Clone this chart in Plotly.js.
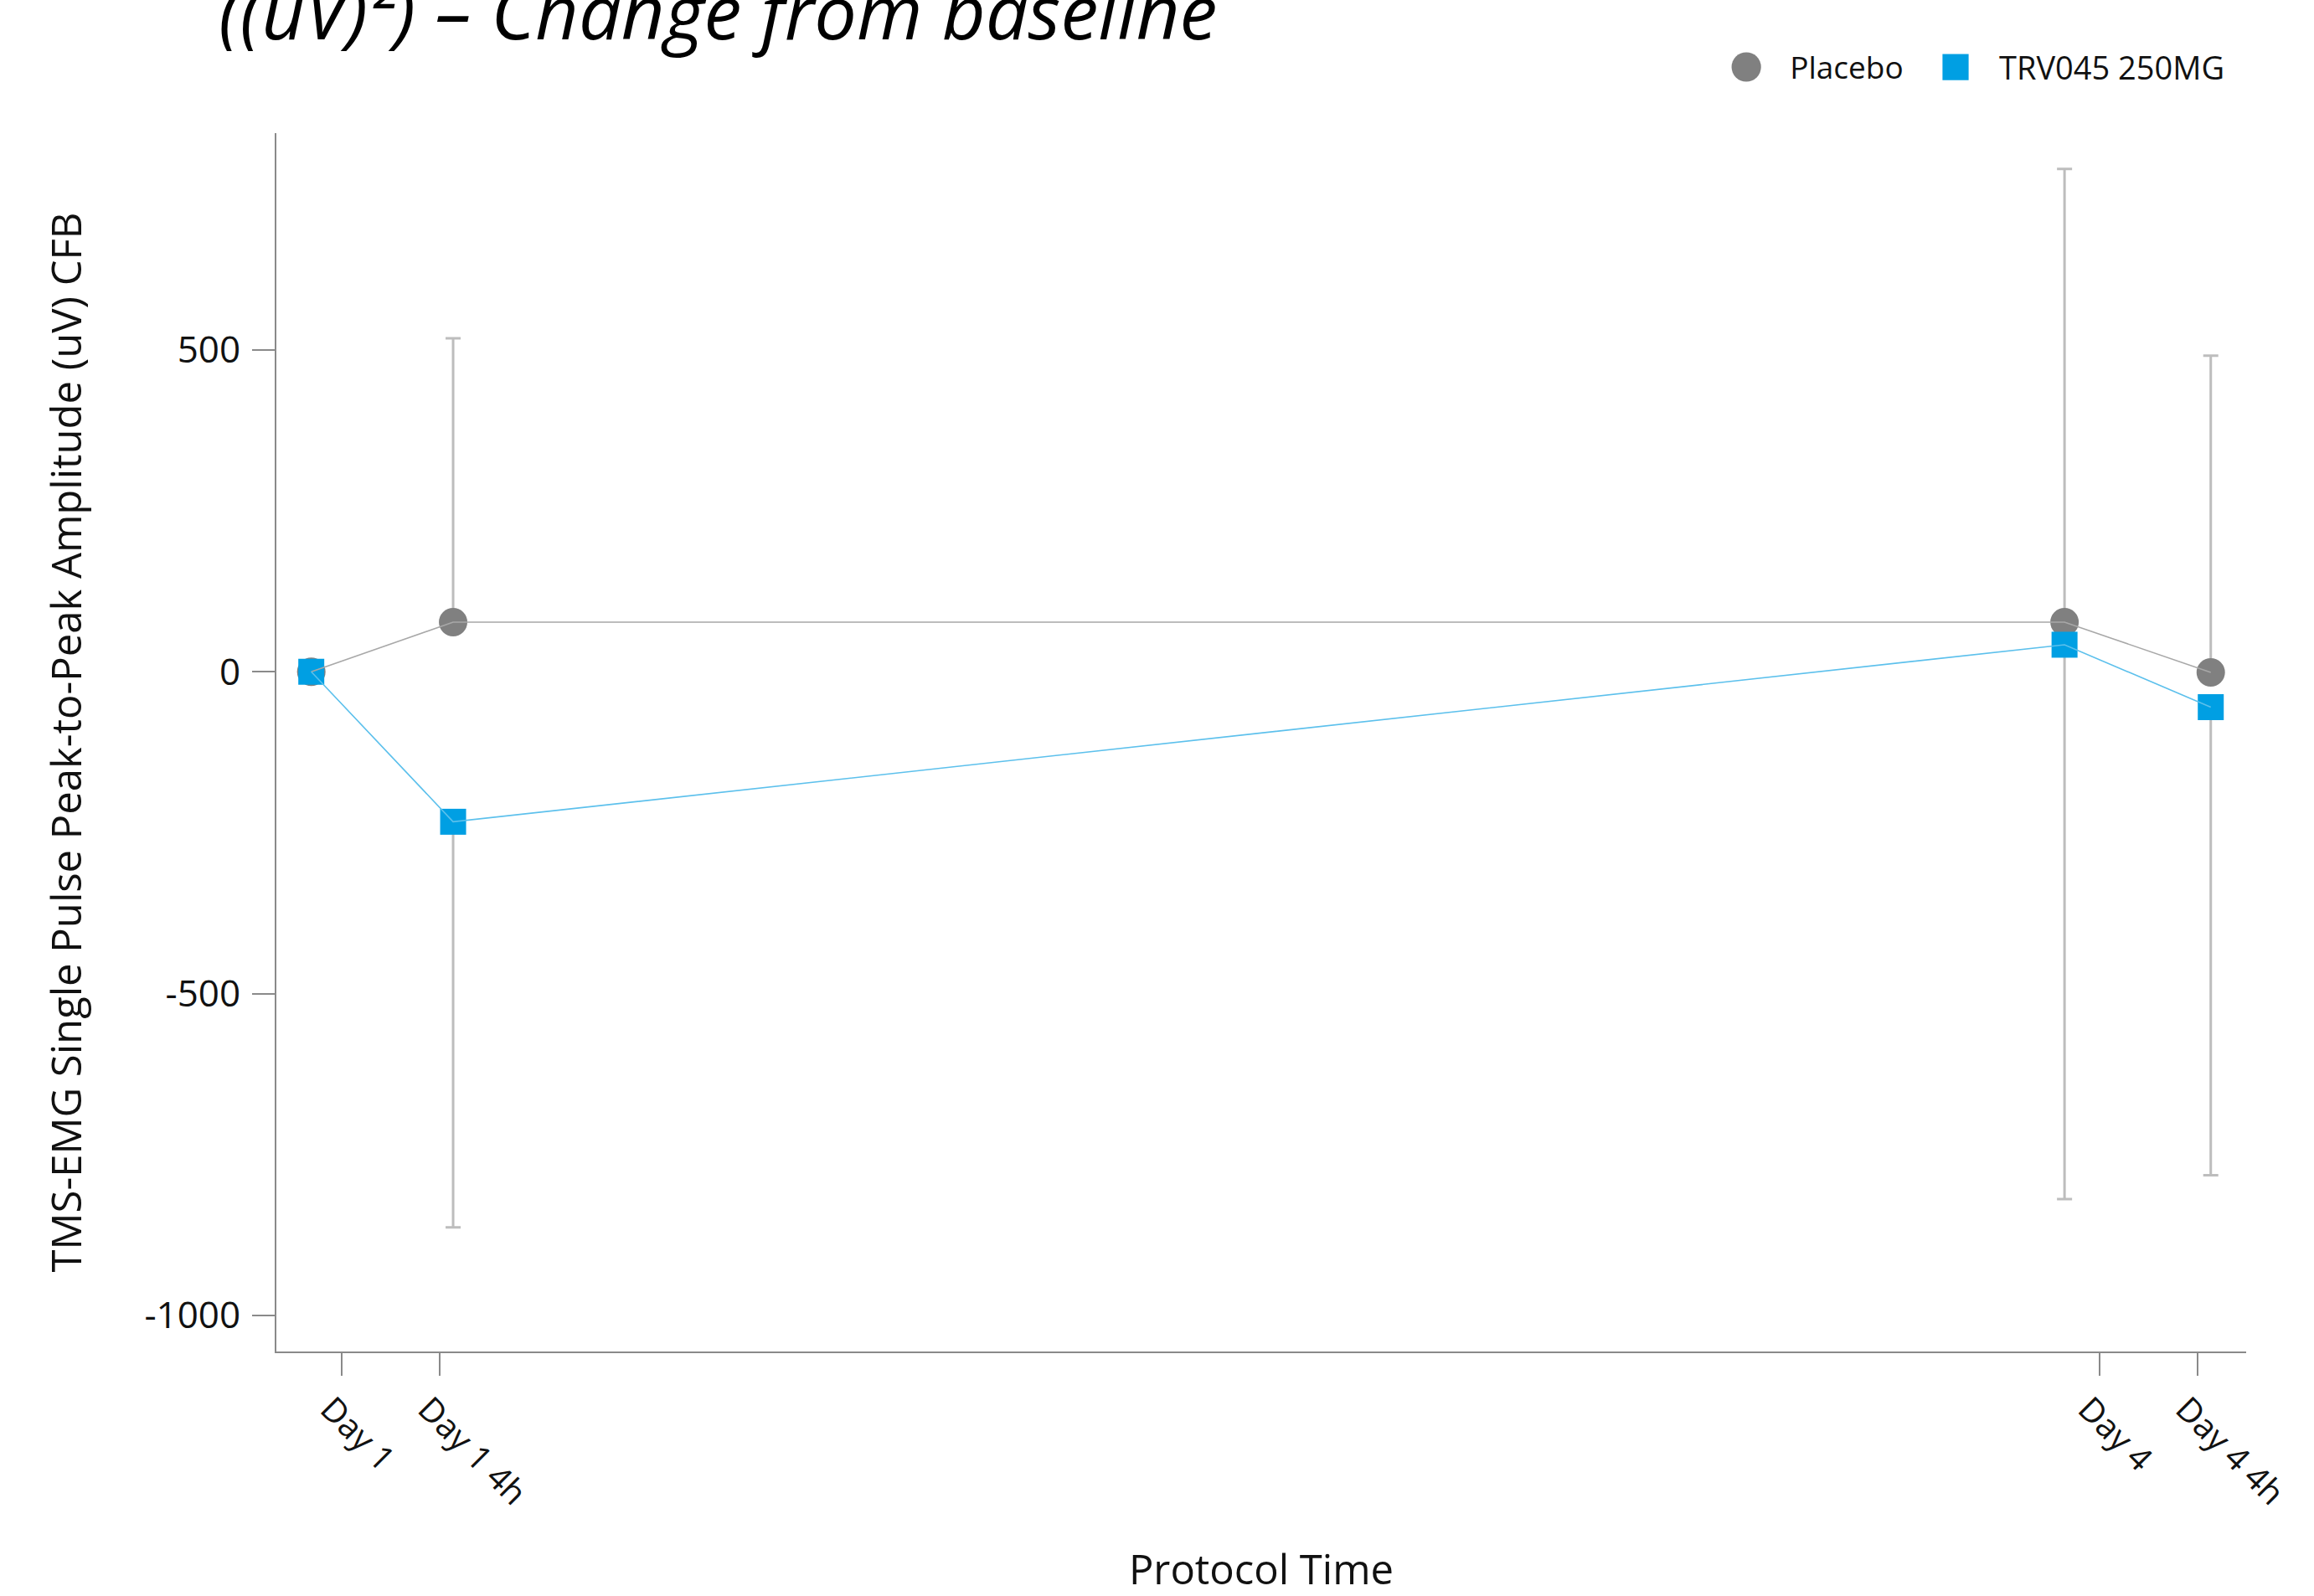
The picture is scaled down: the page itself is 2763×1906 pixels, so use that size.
<!DOCTYPE html>
<html>
<head>
<meta charset="utf-8">
<script src="https://cdn.plot.ly/plotly-3.0.1.min.js"></script>
<style>
  html, body { margin: 0; padding: 0; background: #ffffff; }
  #chart { width: 2763px; height: 1906px; }
</style>
</head>
<body>
<div id="chart"></div>
<script>
// Protocol time points (hours from Day 1 dose) and their labels
const tickHours = [0, 4, 72, 76];
const tickLabels = ['Day 1', 'Day 1 4h', 'Day 4', 'Day 4 4h'];

// Mean assessment time of each visit, in hours
const visitHours = [-1.26, 4.55, 70.56, 76.55];

// Change from baseline, mean values
const placeboMean = [0, 77, 77, -1];
const trvMean = [0, -233, 42, -55];

// Error bar lengths (placebo drawn upward, TRV045 drawn downward)
const placeboErrUp = [0, 441, 704, 492];
const trvErrDown = [0, 630, 861, 727];
const noErr = [0, 0, 0, 0];

const seriesNames = ['Placebo', 'TRV045 250MG'];

const yTickVals = [-1000, -500, 0, 500];
const yTickText = ['-1000', '-500', '0', '500'];

const FONT = '"Open Sans", "Noto Sans", sans-serif';
const ERR_COLOR = '#bdbdbd';
const PLACEBO_MARK = '#808080';
const PLACEBO_LINE = '#a8a8a8';
const TRV_MARK = '#009fe3';
const TRV_LINE = '#5cc0ec';

// Markers (with error bars) first, connecting lines drawn on top of them
const traces = [
  {
    type: 'scatter',
    mode: 'markers',
    name: seriesNames[0],
    legend: 'legend',
    x: visitHours,
    y: placeboMean,
    marker: { symbol: 'circle', size: 34, color: PLACEBO_MARK },
    error_y: {
      type: 'data', symmetric: false,
      array: placeboErrUp, arrayminus: noErr,
      color: ERR_COLOR, thickness: 3, width: 9
    }
  },
  {
    type: 'scatter',
    mode: 'markers',
    name: seriesNames[1],
    legend: 'legend2',
    x: visitHours,
    y: trvMean,
    marker: { symbol: 'square', size: 31, color: TRV_MARK },
    error_y: {
      type: 'data', symmetric: false,
      array: noErr, arrayminus: trvErrDown,
      color: ERR_COLOR, thickness: 3, width: 9
    }
  },
  {
    type: 'scatter',
    mode: 'lines',
    name: seriesNames[0],
    showlegend: false,
    x: visitHours,
    y: placeboMean,
    line: { color: PLACEBO_LINE, width: 1.6 }
  },
  {
    type: 'scatter',
    mode: 'lines',
    name: seriesNames[1],
    showlegend: false,
    x: visitHours,
    y: trvMean,
    line: { color: TRV_LINE, width: 1.6 }
  }
];

const axisLine = '#8a8a8a';

const legendBase = {
  orientation: 'v',
  xanchor: 'right',
  y: 1.054, yanchor: 'middle',
  font: { family: FONT, size: 37, color: '#111111' },
  itemwidth: 94,
  bgcolor: 'rgba(0,0,0,0)'
};

const layout = {
  width: 2763,
  height: 1906,
  paper_bgcolor: '#ffffff',
  plot_bgcolor: '#ffffff',
  margin: { l: 330, r: 81, t: 159, b: 292, pad: 0 },
  font: { family: FONT, color: '#111111' },
  showlegend: true,
  legend: Object.assign({}, legendBase, { x: 0.8283 }),
  legend2: Object.assign({}, legendBase, { x: 0.9915, font: { family: FONT, size: 38, color: '#111111' } }),
  xaxis: {
    range: [-2.69, 78.0],
    tickmode: 'array',
    tickvals: tickHours,
    ticktext: tickLabels,
    tickangle: 45,
    ticklabelshift: -14,
    ticks: 'outside',
    ticklen: 27,
    tickwidth: 2,
    tickcolor: axisLine,
    showline: true,
    linecolor: axisLine,
    linewidth: 2,
    showgrid: false,
    zeroline: false,
    tickfont: { family: FONT, size: 40, color: '#111111' },
    title: {
      text: 'Protocol Time',
      font: { family: FONT, size: 49, color: '#111111' },
      standoff: 80
    }
  },
  yaxis: {
    range: [-1055.9, 836.7],
    tickmode: 'array',
    tickvals: yTickVals,
    ticktext: yTickText,
    ticks: 'outside',
    ticklen: 27,
    tickwidth: 2,
    tickcolor: axisLine,
    ticklabelstandoff: 5,
    showline: true,
    linecolor: axisLine,
    linewidth: 2,
    showgrid: false,
    zeroline: false,
    tickfont: { family: FONT, size: 44, color: '#111111' },
    title: {
      text: 'TMS-EMG Single Pulse Peak-to-Peak Amplitude (uV) CFB',
      font: { family: FONT, size: 49, color: '#111111' },
      standoff: 59
    }
  },
  annotations: [
    {
      text: '((uV)²) – Change from baseline',
      xref: 'paper', yref: 'paper',
      x: -0.030, xanchor: 'left',
      y: 1.1007, yanchor: 'middle',
      showarrow: false,
      font: { family: FONT, size: 90, color: '#000000', style: 'italic' }
    }
  ]
};

Plotly.newPlot('chart', traces, layout, { staticPlot: true, displayModeBar: false }).then(function (gd) {
  // Legend symbols are capped in size; enlarge them to match the plotted markers
  gd.querySelectorAll('.legendpoints path.scatterpts').forEach(function (p) {
    const isSquare = (p.getAttribute('d') || '').indexOf('A') === -1;
    const t = p.getAttribute('transform') || '';
    p.setAttribute('transform', t + ' scale(' + (isSquare ? 1.95 : 2.2) + ')');
  });
});
</script>
</body>
</html>
